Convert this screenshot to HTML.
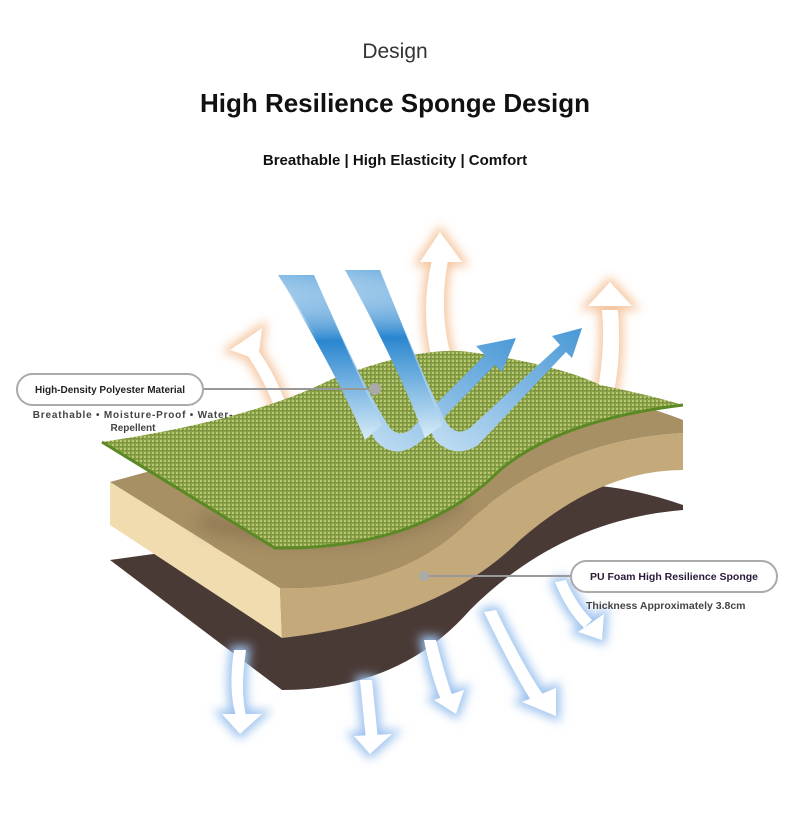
<!DOCTYPE html>
<html><head><meta charset="utf-8"><style>
html,body{margin:0;padding:0;background:#fff;}
body{width:790px;height:829px;position:relative;overflow:hidden;font-family:"Liberation Sans",sans-serif;}
.t{position:absolute;left:0;width:790px;text-align:center;}
</style></head><body>
<div class="t" style="top:40px;font-size:21px;color:#333;">Design</div>
<div class="t" style="top:88px;font-size:26px;font-weight:bold;color:#111;">High Resilience Sponge Design</div>
<div class="t" style="top:152px;font-size:15px;font-weight:bold;color:#111;">Breathable | High Elasticity | Comfort</div>
<svg width="790" height="829" style="position:absolute;left:0;top:0">
<defs>
<filter id="gl" filterUnits="userSpaceOnUse" x="0" y="0" width="790" height="829"><feGaussianBlur stdDeviation="5"/></filter>
<filter id="sh" filterUnits="userSpaceOnUse" x="0" y="0" width="790" height="829"><feGaussianBlur stdDeviation="8"/></filter>
<pattern id="wv" width="4" height="4" patternUnits="userSpaceOnUse">
<rect width="4" height="4" fill="#88a048"/><rect width="2" height="2" fill="#b9c870"/><rect x="2" y="2" width="1" height="1" fill="#5d7530"/></pattern>
<linearGradient id="bl1" x1="0" y1="0" x2="0" y2="1"><stop offset="0" stop-color="#fff" stop-opacity="0"/><stop offset=".4" stop-color="#2a86cf"/><stop offset="1" stop-color="#d8ecf8"/></linearGradient>
<linearGradient id="bl2" x1="0" y1="1" x2="1" y2="0"><stop offset="0" stop-color="#e6f3fb"/><stop offset="1" stop-color="#2a86cf"/></linearGradient>
<g id="up">
<path d="M290 470 Q280 400 245 352 L255 346 Q292 396 302 470Z"/>
<polygon points="230,350 262,328 258,360"/>
<path d="M432 360 Q420 310 432 260 L448 260 Q438 312 452 360Z"/>
<polygon points="420,262 440,232 462,262"/>
<path d="M596 400 Q606 350 602 310 L618 310 Q622 360 612 400Z"/>
<polygon points="588,306 610,282 632,306"/></g>
<g id="dn">
<path d="M234 650 Q228 690 236 716 L246 716 Q240 690 246 650Z"/><polygon points="222,714 262,714 240,734"/>
<path d="M360 680 Q364 720 366 740 L378 740 Q376 720 372 680Z"/><polygon points="354,736 392,734 370,754"/>
<path d="M424 640 Q432 680 442 702 L454 700 Q446 680 436 640Z"/><polygon points="434,700 464,690 456,714"/>
<path d="M484 612 Q512 670 532 702 L544 696 Q524 668 496 610Z"/><polygon points="522,702 556,688 556,716"/>
<path d="M555 582 Q566 610 584 628 L592 620 Q576 604 566 580Z"/><polygon points="578,632 604,614 602,640"/></g>
</defs>
<!-- orange up arrows -->
<use href="#up" fill="#f3b98a" stroke="#f3b98a" stroke-width="8" filter="url(#gl)" opacity=".8"/>
<use href="#up" fill="#fff"/>
<!-- brown layer -->
<path d="M110 560 L282 690 Q400 690 470 610 Q560 520 683 510 L683 505 Q640 490 600 486 L400 520Z" fill="#4a3a36"/>
<!-- down arrows -->
<use href="#dn" fill="#9cc2ee" stroke="#9cc2ee" stroke-width="8" filter="url(#gl)"/>
<use href="#dn" fill="#fff"/>
<!-- tan layer -->
<path d="M110 482 L280 588 Q400 590 470 520 Q560 440 683 433 L683 420 Q620 395 560 395 L300 430Z" fill="#a89065"/>
<path d="M683 433 L683 470 Q600 470 520 540 Q440 620 282 638 L280 588 Q400 590 470 520 Q560 440 683 433Z" fill="#c4aa7a"/>
<path d="M110 482 L280 588 L282 638 L110 525Z" fill="#f1dcb0"/>
<path d="M200 520 Q350 560 460 500" stroke="#7a6443" stroke-width="18" fill="none" filter="url(#sh)" opacity=".5"/>
<!-- green layer -->
<path d="M102 442 Q250 420 330 380 Q420 345 470 352 Q560 365 600 385 Q650 395 683 405 Q560 420 500 470 Q420 550 275 548Z" fill="url(#wv)"/>
<path d="M102 442 L275 548 Q420 550 500 470 Q560 420 683 405" fill="none" stroke="#5b8a25" stroke-width="3"/>
<!-- blue arrows -->
<path d="M278 275 L314 275 Q360 380 385 420 Q395 440 410 430 L485 355 L476 346 L516 338 L502 372 L495 365 L420 442 Q395 462 375 440 Q345 380 278 275Z" fill="url(#bl2)"/>
<path d="M278 275 L314 275 Q355 370 382 425 L365 440 Q340 380 278 275Z" fill="url(#bl1)"/>
<path d="M345 270 L380 270 Q420 370 445 420 Q455 438 470 428 L560 345 L552 336 L582 328 L572 358 L566 352 L478 445 Q455 460 435 440 Q400 370 345 270Z" fill="url(#bl2)"/>
<path d="M345 270 L380 270 Q418 365 442 425 L425 438 Q400 370 345 270Z" fill="url(#bl1)"/>
<!-- callouts -->
<line x1="203" y1="389" x2="375" y2="389" stroke="#999" stroke-width="2"/>
<circle cx="375" cy="389" r="6" fill="#aaa"/>
<rect x="17" y="374" width="186" height="31" rx="15.5" fill="#fff" stroke="#aaa" stroke-width="2"/>
<text x="110" y="393" font-size="10" font-weight="bold" text-anchor="middle" fill="#222" font-family="Liberation Sans">High-Density Polyester Material</text>
<text x="133" y="418" font-size="10" font-weight="bold" text-anchor="middle" fill="#444" font-family="Liberation Sans" letter-spacing=".8">Breathable • Moisture-Proof • Water-</text>
<text x="133" y="431" font-size="10" font-weight="bold" text-anchor="middle" fill="#444" font-family="Liberation Sans">Repellent</text>
<line x1="424" y1="576" x2="571" y2="576" stroke="#999" stroke-width="2"/>
<circle cx="424" cy="576" r="5" fill="#aaa"/>
<rect x="571" y="561" width="206" height="31" rx="15.5" fill="#fff" stroke="#aaa" stroke-width="2"/>
<text x="674" y="580" font-size="10.5" font-weight="bold" text-anchor="middle" fill="#2a1a3a" font-family="Liberation Sans">PU Foam High Resilience Sponge</text>
<text x="586" y="609" font-size="10.5" font-weight="bold" fill="#444" font-family="Liberation Sans">Thickness Approximately 3.8cm</text>
</svg>
</body></html>
